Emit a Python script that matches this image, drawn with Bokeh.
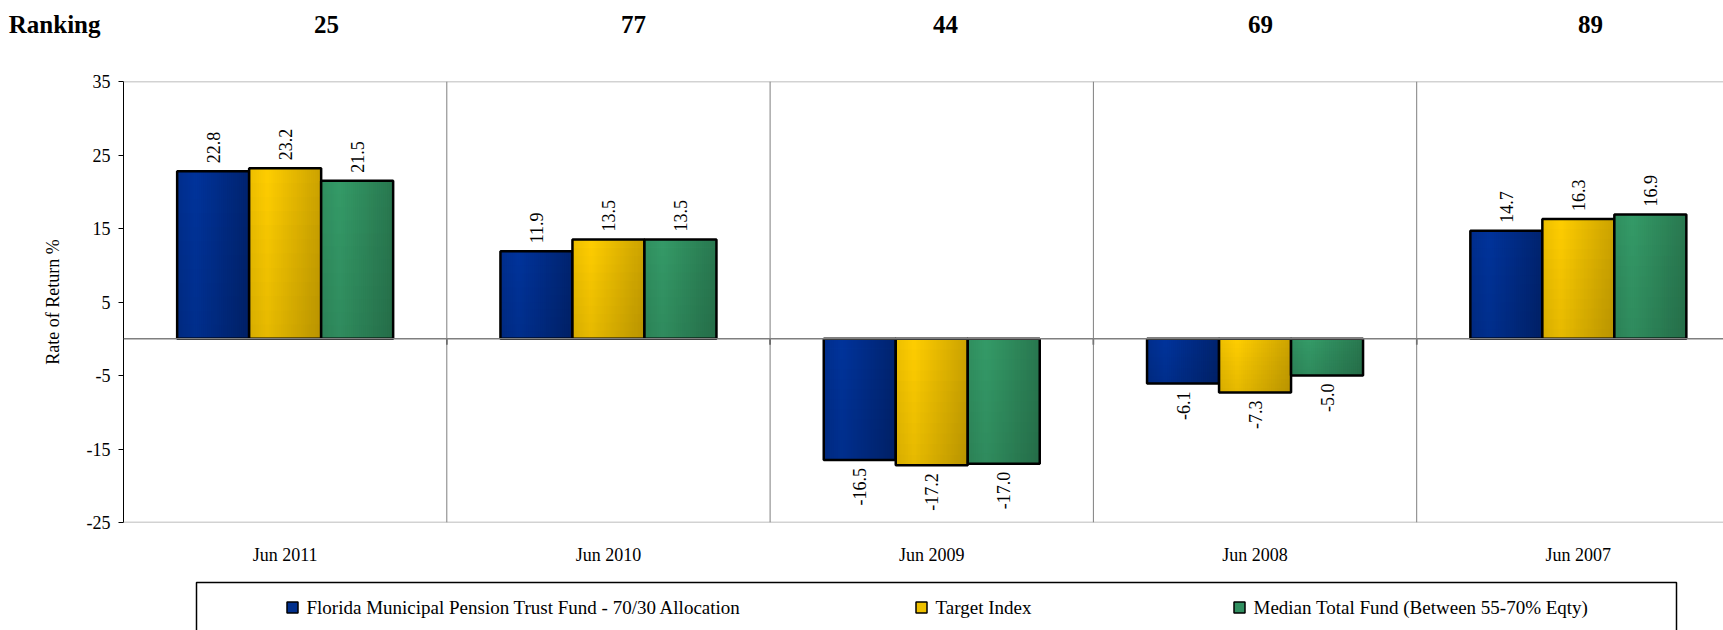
import math

from bokeh.core.properties import value
from bokeh.embed import file_html
from bokeh.layouts import column
from bokeh.models import FixedTicker, Range1d, Span
from bokeh.plotting import figure
from bokeh.resources import INLINE

# ---- data -------------------------------------------------------------
periods = ["Jun 2011", "Jun 2010", "Jun 2009", "Jun 2008", "Jun 2007"]
rankings = [25, 77, 44, 69, 89]
fund_returns = [22.8, 11.9, -16.5, -6.1, 14.7]
target_returns = [23.2, 13.5, -17.2, -7.3, 16.3]
median_returns = [21.5, 13.5, -17.0, -5.0, 16.9]
series_names = [
    "Florida Municipal Pension Trust Fund - 70/30 Allocation",
    "Target Index",
    "Median Total Fund (Between 55-70% Eqty)",
]
y_ticks = [-25, -15, -5, 5, 15, 25, 35]

# ---- styling ----------------------------------------------------------
FONT = "Liberation Serif"
W = 1723
H_RANK, H_MAIN, H_LEG = 48, 527, 55
LEFT = 123
TOP, BOTTOM = 33, 53                 # frame spans page y 81..522
CAT_PX = 323.3                       # width of one period slot in px
BAR_PX = 72.0                        # width of one bar in px
Y_MIN, Y_MAX = -25, 35
PX_PER_UNIT = (H_MAIN - TOP - BOTTOM) / (Y_MAX - Y_MIN)
RANK_COLS_PX = [326, 633, 945, 1260, 1590]   # column centres of the ranking row

# light / dark ends of the horizontal shading in each bar
shades = [
    ((0, 52, 156), (0, 36, 112)),
    ((255, 206, 0), (204, 163, 0)),
    ((53, 155, 104), (41, 120, 80)),
]
series = [fund_returns, target_returns, median_returns]

x_range = Range1d(0, (W - LEFT) / CAT_PX)
centers = [i + 0.5 for i in range(len(periods))]


def shade(light, dark, t):
    if t < 0.25:
        g = (0.25 - t) / 0.25 * 0.35
    else:
        g = (t - 0.25) / 0.75
    return "#%02x%02x%02x" % tuple(int(round(a + (b - a) * g)) for a, b in zip(light, dark))


# ---- ranking row ------------------------------------------------------
rk = figure(
    width=W, height=H_RANK, title=None,
    x_range=Range1d(LEFT, W), y_range=Range1d(0, 1),
    x_axis_location=None, output_backend="svg", toolbar_location=None,
    min_border_left=LEFT, min_border_right=0, min_border_top=0, min_border_bottom=0,
)
rk.outline_line_color = None
rk.xgrid.visible = False
rk.ygrid.visible = False
rk.yaxis.ticker = FixedTicker(ticks=[0.5])
rk.yaxis.major_label_overrides = {0.5: "Ranking"}
rk.yaxis.major_label_text_font = FONT
rk.yaxis.major_label_text_font_size = "25px"
rk.yaxis.major_label_text_font_style = "bold"
rk.yaxis.major_label_text_color = "black"
rk.yaxis.major_label_standoff = 17
rk.yaxis.axis_line_color = None
rk.yaxis.major_tick_line_color = None
rk.yaxis.minor_tick_line_color = None
rk.text(x=RANK_COLS_PX, y=[0.5] * len(rankings), text=[str(r) for r in rankings],
        text_align="center", text_baseline="middle", text_font=value(FONT),
        text_font_size="25px", text_font_style="bold", text_color="black")

# ---- main chart -------------------------------------------------------
p = figure(
    width=W, height=H_MAIN, title=None,
    x_range=x_range, y_range=Range1d(Y_MIN, Y_MAX),
    output_backend="svg", toolbar_location=None,
    min_border_left=LEFT, min_border_right=0,
    min_border_top=TOP, min_border_bottom=BOTTOM,
)
p.outline_line_color = None
p.xgrid.visible = False
p.ygrid.visible = False

# y axis
p.yaxis.ticker = FixedTicker(ticks=y_ticks)
p.yaxis.major_label_overrides = {t: str(t) for t in y_ticks}
p.yaxis.axis_label = "Rate of Return %"
p.yaxis.axis_label_text_font = FONT
p.yaxis.axis_label_text_font_size = "18px"
p.yaxis.axis_label_text_font_style = "normal"
p.yaxis.axis_label_text_color = "black"
p.yaxis.axis_label_standoff = 21
p.yaxis.major_label_text_font = FONT
p.yaxis.major_label_text_font_size = "18px"
p.yaxis.major_label_text_color = "black"
p.yaxis.major_label_standoff = 8
p.yaxis.major_tick_in = 0
p.yaxis.major_tick_out = 5
p.yaxis.minor_tick_line_color = None
p.yaxis.axis_line_color = "black"
p.yaxis.major_tick_line_color = "black"

# x axis: period names under each slot
p.xaxis.ticker = FixedTicker(ticks=centers)
p.xaxis.major_label_overrides = {c: name for c, name in zip(centers, periods)}
p.xaxis.major_label_text_font = FONT
p.xaxis.major_label_text_font_size = "18px"
p.xaxis.major_label_text_color = "black"
p.xaxis.major_label_standoff = 16
p.xaxis.axis_line_color = None
p.xaxis.major_tick_line_color = None
p.xaxis.minor_tick_line_color = None

# frame lines
for yv in (Y_MAX, Y_MIN):
    p.add_layout(Span(location=yv, dimension="width", line_color="#a6a6a6", line_width=1.5))
for k in range(1, len(periods)):
    p.add_layout(Span(location=k, dimension="height", line_color="#7f7f7f", line_width=1))
p.add_layout(Span(location=0, dimension="width", line_color="#7f7f7f", line_width=1.5))
# short dark ticks where the slot dividers cross the zero line
tick_len = 6 / PX_PER_UNIT
p.segment(x0=list(range(1, len(periods))), x1=list(range(1, len(periods))),
          y0=[0] * (len(periods) - 1), y1=[-tick_len] * (len(periods) - 1),
          line_color="#333333", line_width=1.5)

# bars, shaded with thin vertical strips and a soft top-to-bottom darkening
bw = BAR_PX / CAT_PX
N_STRIPS = 36
N_BANDS = 12

for s, vals in enumerate(series):
    light, dark = shades[s]
    xs = [c + (s - 1) * bw for c in centers]
    lefts, rights, tops, bottoms, colors = [], [], [], [], []
    b_left, b_right, b_top, b_bottom, b_alpha = [], [], [], [], []
    step = bw / N_STRIPS
    for xc, v in zip(xs, vals):
        x0 = xc - bw / 2
        hi, lo = max(v, 0), min(v, 0)
        for k in range(N_STRIPS):
            lefts.append(x0 + k * step)
            rights.append(min(x0 + (k + 1.6) * step, x0 + bw))
            tops.append(hi)
            bottoms.append(lo)
            colors.append(shade(light, dark, (k + 0.5) / N_STRIPS))
        hstep = (hi - lo) / N_BANDS
        for j in range(N_BANDS):
            b_left.append(x0)
            b_right.append(x0 + bw)
            b_top.append(hi - j * hstep)
            b_bottom.append(hi - (j + 1) * hstep)
            b_alpha.append(0.10 * (j + 0.5) / N_BANDS)
    p.quad(left=lefts, right=rights, top=tops, bottom=bottoms,
           fill_color=colors, line_color=None)
    p.quad(left=b_left, right=b_right, top=b_top, bottom=b_bottom,
           fill_color="black", fill_alpha=b_alpha, line_color=None)
    p.vbar(x=xs, top=vals, bottom=0, width=bw, fill_color=None,
           line_color="black", line_width=2.5)

    # value labels, rotated, just outside the bar end
    pad = 8 / PX_PER_UNIT
    pos = [(x, v) for x, v in zip(xs, vals) if v >= 0]
    neg = [(x, v) for x, v in zip(xs, vals) if v < 0]
    if pos:
        p.text(x=[x for x, _ in pos], y=[v + pad for _, v in pos],
               text=[f"{v:.1f}" for _, v in pos], angle=math.pi / 2,
               text_align="left", text_baseline="middle",
               text_font=value(FONT), text_font_size="18px", text_color="black")
    if neg:
        p.text(x=[x for x, _ in neg], y=[v - pad for _, v in neg],
               text=[f"{v:.1f}" for _, v in neg], angle=math.pi / 2,
               text_align="right", text_baseline="middle",
               text_font=value(FONT), text_font_size="18px", text_color="black")

# ---- legend strip -----------------------------------------------------
lg = figure(
    width=W, height=H_LEG, title=None,
    x_range=Range1d(LEFT, W), y_range=Range1d(H_LEG, 0),
    x_axis_location=None, y_axis_location=None,
    output_backend="svg", toolbar_location=None,
    min_border_left=LEFT, min_border_right=0, min_border_top=0, min_border_bottom=0,
)
lg.outline_line_color = None
lg.xgrid.visible = False
lg.ygrid.visible = False
lg.quad(left=196, right=1676, top=7, bottom=H_LEG + 20,
        fill_color=None, line_color="black", line_width=1.5)

marker_x = [292, 921, 1239]
marker_colors = [shade(l, d, 0.5) for l, d in shades]
lg.scatter(x=marker_x, y=[32] * 3, marker="square", size=11,
           fill_color=marker_colors, line_color="black", line_width=1.5)
lg.text(x=[m + 14 for m in marker_x], y=[32] * 3, text=series_names,
        text_align="left", text_baseline="middle",
        text_font=value(FONT), text_font_size="19px", text_color="black")

page = column(rk, p, lg, spacing=0)
open("out.html", "w").write(file_html(page, INLINE))
